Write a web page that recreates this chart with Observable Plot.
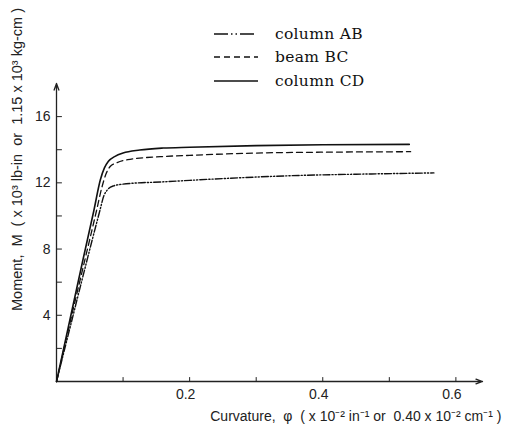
<!DOCTYPE html>
<html>
<head>
<meta charset="utf-8">
<script src="https://cdn.jsdelivr.net/npm/d3@7"></script>
<script src="https://cdn.jsdelivr.net/npm/@observablehq/plot@0.6"></script>
<style>
  html, body { margin: 0; padding: 0; background: #fff; }
  #wrap { position: relative; width: 505px; height: 436px; }
  #legend { position: absolute; left: 213px; top: 22px; font-family: "DejaVu Serif", serif; font-size: 15.5px; color: #111; }
  #legend .row { display: flex; align-items: center; height: 23.5px; }
  #legend .row span { margin-left: 16px; letter-spacing: 0.3px; }
</style>
</head>
<body>
<div id="wrap"><div id="legend"></div></div>
<script>
// Column AB (dash-dot)
const xAB = [0, 0.02, 0.04, 0.065, 0.071, 0.077, 0.086, 0.1, 0.116, 0.156, 0.2, 0.3, 0.367, 0.45, 0.567];
const yAB = [0, 3.2, 6.4, 10.3, 11.2, 11.6, 11.82, 11.92, 11.98, 12.05, 12.15, 12.35, 12.45, 12.52, 12.6];
// Beam BC (dashed)
const xBC = [0, 0.02, 0.04, 0.06, 0.068, 0.074, 0.081, 0.09, 0.107, 0.156, 0.2, 0.3, 0.4, 0.532];
const yBC = [0, 3.5, 6.9, 10.3, 11.7, 12.5, 13.0, 13.2, 13.4, 13.58, 13.66, 13.8, 13.85, 13.88];
// Column CD (solid)
const xCD = [0, 0.02, 0.04, 0.056, 0.066, 0.072, 0.078, 0.088, 0.1, 0.125, 0.16, 0.2, 0.3, 0.4, 0.53];
const yCD = [0, 3.7, 7.4, 10.3, 12.2, 12.9, 13.3, 13.6, 13.8, 13.98, 14.1, 14.15, 14.25, 14.3, 14.32];

const seriesNames = ["column AB", "beam BC", "column CD"];
const xDomain = [0, 0.64];
const yDomain = [0, 18];
const xTickLabels = [0.2, 0.4, 0.6];
const xTickMarks = [0.1, 0.2, 0.3, 0.4, 0.5, 0.6];
const yTickLabels = [4, 8, 12, 16];
const yTickMarks = [2, 4, 6, 8, 10, 12, 14, 16];
const yLabel = "Moment,  M  ( x 10³ lb-in  or  1.15 x 10³ kg-cm )";
const xLabel = "Curvature,  φ  ( x 10⁻² in⁻¹ or  0.40 x 10⁻² cm⁻¹ )";

const dashes = ["7,2,1.2,2,1.2,2", "6,4", null];
const widths = [1.4, 1.3, 1.6];

const toRows = (xs, ys) => xs.map((x, i) => ({x, y: ys[i]}));
const series = [toRows(xAB, yAB), toRows(xBC, yBC), toRows(xCD, yCD)];

const tickShape = {draw(context, l) { context.moveTo(0, 0); context.lineTo(0, -l); }};

const sans = "'Liberation Sans', Arial, sans-serif";

const plot = Plot.plot({
  width: 505,
  height: 436,
  marginLeft: 56,
  marginRight: 23,
  marginTop: 83,
  marginBottom: 55,
  style: {fontFamily: sans, background: "#fff", color: "#222"},
  x: {domain: xDomain, axis: null},
  y: {domain: yDomain, axis: null},
  marks: [
    // axis lines with arrowheads
    Plot.arrow([{x1: xDomain[0], y1: yDomain[0], x2: xDomain[0], y2: yDomain[1]}],
      {x1: "x1", y1: "y1", x2: "x2", y2: "y2", stroke: "#222", strokeWidth: 1.3, headLength: 8, headAngle: 40}),
    Plot.arrow([{x1: xDomain[0], y1: yDomain[0], x2: xDomain[1], y2: yDomain[0]}],
      {x1: "x1", y1: "y1", x2: "x2", y2: "y2", stroke: "#222", strokeWidth: 1.3, headLength: 8, headAngle: 40}),
    // inward ticks
    Plot.vector(yTickMarks, {x: xDomain[0], y: d => d, length: 5, rotate: 90, anchor: "start", shape: tickShape, stroke: "#222", strokeWidth: 1}),
    Plot.vector(xTickMarks, {x: d => d, y: yDomain[0], length: 4, rotate: 0, anchor: "start", shape: tickShape, stroke: "#222", strokeWidth: 1}),
    // tick labels
    Plot.text(yTickLabels, {x: xDomain[0], y: d => d, text: d => String(d), textAnchor: "end", dx: -6, fontSize: 14, fill: "#222"}),
    Plot.text(xTickLabels, {x: d => d, y: yDomain[0], text: d => d.toFixed(1), dy: 13, dx: -4, fontSize: 14, fill: "#222"}),
    // axis labels
    Plot.text([yLabel], {frameAnchor: "top-left", text: d => d, rotate: -90, dx: -45, dy: 76, textAnchor: "middle", fontSize: 14.5, fill: "#222"}),
    Plot.text([xLabel], {frameAnchor: "bottom-right", text: d => d, dx: 19, dy: 39, textAnchor: "end", fontSize: 14, fill: "#222"}),
    // curves
    ...series.map((rows, i) => Plot.line(rows, {
      x: "x", y: "y", curve: "monotone-x",
      stroke: "#111", strokeWidth: widths[i], strokeDasharray: dashes[i]
    }))
  ]
});
document.getElementById("wrap").appendChild(plot);

// legend
const legend = document.getElementById("legend");
seriesNames.forEach((name, i) => {
  const row = document.createElement("div");
  row.className = "row";
  const ns = "http://www.w3.org/2000/svg";
  const svg = document.createElementNS(ns, "svg");
  svg.setAttribute("width", 46);
  svg.setAttribute("height", 10);
  const line = document.createElementNS(ns, "line");
  line.setAttribute("x1", 1); line.setAttribute("x2", 45);
  line.setAttribute("y1", 5); line.setAttribute("y2", 5);
  line.setAttribute("stroke", "#111");
  line.setAttribute("stroke-width", widths[i]);
  if (dashes[i]) line.setAttribute("stroke-dasharray", i === 0 ? "14,3,1.5,3,1.5,3,14" : "6,4");
  svg.appendChild(line);
  row.appendChild(svg);
  const span = document.createElement("span");
  span.textContent = name;
  row.appendChild(span);
  legend.appendChild(row);
});
</script>
</body>
</html>
